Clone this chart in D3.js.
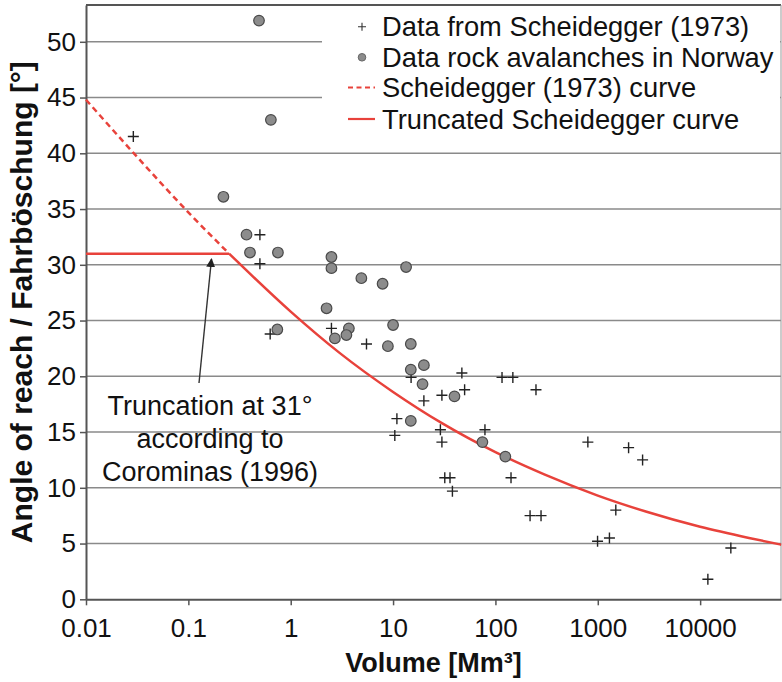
<!DOCTYPE html>
<html>
<head>
<meta charset="utf-8">
<script src="https://cdn.jsdelivr.net/npm/d3@7"></script>
<style>
  html, body { margin: 0; padding: 0; background: #fff; }
  svg { display: block; font-family: "Liberation Sans", Arial, sans-serif; }
</style>
</head>
<body>
<svg id="chart" width="782" height="682"></svg>
<script>
// ---- Data ----
// Data from Scheidegger (1973): volume [Mm³], angle [°]
const scheideggerVolume = [0.029, 0.50, 0.50, 0.63, 2.5, 5.5, 15, 20, 10.9, 10.4, 29, 30, 32, 36, 38, 47, 50, 30, 79, 142, 116, 148, 249, 218, 279, 800, 2000, 2740, 1500, 995, 1300, 19950, 11900];
const scheideggerAngle  = [41.5, 32.7, 30.1, 23.8, 24.3, 22.9, 19.9, 17.8, 16.2, 14.7, 15.2, 14.1, 10.9, 10.9, 9.7, 20.3, 18.8, 18.3, 15.2, 10.9, 19.9, 19.9, 18.8, 7.5, 7.5, 14.1, 13.6, 12.5, 8.0, 5.2, 5.5, 4.6, 1.8];

// Data rock avalanches in Norway
const norwayVolume = [0.49, 0.64, 0.22, 0.37, 0.40, 0.75, 2.5, 2.5, 4.9, 7.9, 13.4, 2.24, 0.74, 2.7, 3.7, 3.5, 8.9, 10.0, 14.9, 14.9, 20.0, 19.4, 39.8, 14.9, 74.6, 125];
const norwayAngle  = [51.9, 43.0, 36.1, 32.7, 31.1, 31.1, 30.7, 29.7, 28.8, 28.3, 29.8, 26.1, 24.2, 23.4, 24.3, 23.7, 22.7, 24.6, 22.9, 20.6, 21.0, 19.3, 18.2, 16.0, 14.1, 12.8];

// Scheidegger (1973) curve – dashed part (above the truncation)
const curveDashVolume = [0.01, 0.03, 0.1, 0.25];
const curveDashAngle  = [44.8, 39.9, 34.7, 31.0];

// Truncated Scheidegger curve
const truncFlatVolume = [0.01, 0.25];
const truncFlatAngle  = [31.0, 31.0];
const truncCurveVolume = [0.25, 0.3, 1, 3, 10, 30, 100, 300, 1000, 3000, 10000, 30000, 62000];
const truncCurveAngle  = [31.0, 30.3, 25.8, 22.1, 18.6, 15.8, 13.2, 11.2, 9.3, 7.85, 6.5, 5.5, 4.9];

// Axis ticks
const xTicks = [0.01, 0.1, 1, 10, 100, 1000, 10000];
const xTickLabels = ["0.01", "0.1", "1", "10", "100", "1000", "10000"];
const yTicks = [0, 5, 10, 15, 20, 25, 30, 35, 40, 45, 50];

// Legend entries
const legendLabels = ["Data from Scheidegger (1973)", "Data rock avalanches in Norway", "Scheidegger (1973) curve", "Truncated Scheidegger curve"];
const annotationLines = ["Truncation at 31°", "according to", "Corominas (1996)"];
const xTitle = "Volume [Mm³]";
const yTitle = "Angle of reach / Fahrböschung [°]";

// ---- Layout ----
const svg = d3.select("#chart");
const pL = 86, pR = 781, pT = 5, pB = 599.3;
const RED = "#e8423b";

const x = d3.scaleLog().domain([0.01, Math.pow(10, 4.79)]).range([pL, pR]);
const y = d3.scaleLinear().domain([0, 53.3]).range([pB, pT]);

const zip = (a, b) => a.map((v, i) => [v, b[i]]);

// Grid lines
svg.append("g").selectAll("line").data(yTicks.filter(d => d > 0)).join("line")
  .attr("x1", pL).attr("x2", pR)
  .attr("y1", d => y(d)).attr("y2", d => y(d))
  .attr("stroke", "#8a8a8a").attr("stroke-width", 1.5);

// Frame top and right
svg.append("line").attr("x1", pL).attr("x2", pR).attr("y1", pT).attr("y2", pT)
  .attr("stroke", "#555").attr("stroke-width", 2);
svg.append("line").attr("x1", pR).attr("x2", pR).attr("y1", pT).attr("y2", pB)
  .attr("stroke", "#999").attr("stroke-width", 1);

// Legend background (hides grid lines behind it)
svg.append("rect").attr("x", 322).attr("y", pT + 1.5).attr("width", pR - 322 - 1).attr("height", 134)
  .attr("fill", "#fff");

// Axes
const xAxis = d3.axisBottom(x).tickValues(xTicks).tickFormat((d, i) => xTickLabels[i]).tickSize(6).tickSizeOuter(0);
const gx = svg.append("g").attr("transform", `translate(0,${pB})`).call(xAxis);
gx.select(".domain").attr("stroke", "#555").attr("stroke-width", 2);
gx.selectAll(".tick line").attr("stroke", "#555").attr("stroke-width", 1.5);
gx.selectAll(".tick text").attr("font-size", 26).attr("fill", "#111").attr("font-family", "Liberation Sans, Arial, sans-serif")
  .attr("y", 13).attr("dy", "0.95em");

const yAxis = d3.axisLeft(y).tickValues(yTicks).tickSize(6).tickSizeOuter(0);
const gy = svg.append("g").attr("transform", `translate(${pL},0)`).call(yAxis);
gy.select(".domain").attr("stroke", "#555").attr("stroke-width", 2);
gy.selectAll(".tick line").attr("stroke", "#555").attr("stroke-width", 1.5);
gy.selectAll(".tick text").attr("font-size", 26).attr("fill", "#111").attr("font-family", "Liberation Sans, Arial, sans-serif").attr("x", -10);

// Curves
const line = d3.line().x(d => x(d[0])).y(d => y(d[1]));
const smooth = d3.line().x(d => x(d[0])).y(d => y(d[1])).curve(d3.curveMonotoneX);

svg.append("path").datum(zip(curveDashVolume, curveDashAngle)).attr("d", smooth)
  .attr("fill", "none").attr("stroke", RED).attr("stroke-width", 2.5).attr("stroke-dasharray", "6,4");
svg.append("path").datum(zip(truncFlatVolume, truncFlatAngle)).attr("d", line)
  .attr("fill", "none").attr("stroke", RED).attr("stroke-width", 2.5);
svg.append("path").datum(zip(truncCurveVolume, truncCurveAngle)).attr("d", smooth)
  .attr("fill", "none").attr("stroke", RED).attr("stroke-width", 2.5);

// Scheidegger plus markers
const plusSize = 5.5;
svg.append("g").selectAll("path").data(zip(scheideggerVolume, scheideggerAngle)).join("path")
  .attr("d", d => {
    const cx = x(d[0]), cy = y(d[1]);
    return `M${cx - plusSize},${cy}H${cx + plusSize}M${cx},${cy - plusSize}V${cy + plusSize}`;
  })
  .attr("stroke", "#222").attr("stroke-width", 1.4).attr("fill", "none");

// Norway circles
svg.append("g").selectAll("circle").data(zip(norwayVolume, norwayAngle)).join("circle")
  .attr("cx", d => x(d[0])).attr("cy", d => y(d[1])).attr("r", 5.3)
  .attr("fill", "#8c8c8c").attr("stroke", "#4a4a4a").attr("stroke-width", 1.2);

// Legend
const legY = [26.7, 57.3, 87.5, 119];
const legX = 362, legTextX = 382;
svg.append("path").attr("d", `M${legX - 4},${legY[0]}H${legX + 4}M${legX},${legY[0] - 4}V${legY[0] + 4}`)
  .attr("stroke", "#333").attr("stroke-width", 1.1);
svg.append("circle").attr("cx", legX).attr("cy", legY[1]).attr("r", 3.8)
  .attr("fill", "#8c8c8c").attr("stroke", "#666").attr("stroke-width", 1);
svg.append("line").attr("x1", 348).attr("x2", 375).attr("y1", legY[2]).attr("y2", legY[2])
  .attr("stroke", RED).attr("stroke-width", 2).attr("stroke-dasharray", "5,3.5");
svg.append("line").attr("x1", 348).attr("x2", 375).attr("y1", legY[3]).attr("y2", legY[3])
  .attr("stroke", RED).attr("stroke-width", 2.2);
svg.append("g").selectAll("text").data(legendLabels).join("text")
  .attr("x", legTextX).attr("y", (d, i) => legY[i] + 9.5)
  .attr("font-size", 27.3).attr("fill", "#111").text(d => d);

// Annotation
svg.append("defs").append("marker").attr("id", "arrow").attr("viewBox", "0 0 10 10")
  .attr("refX", 9).attr("refY", 5).attr("markerWidth", 9).attr("markerHeight", 9)
  .attr("markerUnits", "userSpaceOnUse").attr("orient", "auto")
  .append("path").attr("d", "M0,0L10,5L0,10Z").attr("fill", "#222");
svg.append("line").attr("x1", 199).attr("y1", 383).attr("x2", 211.5).attr("y2", 259)
  .attr("stroke", "#333").attr("stroke-width", 1.4).attr("marker-end", "url(#arrow)");
svg.append("g").selectAll("text").data(annotationLines).join("text")
  .attr("x", 210).attr("y", (d, i) => 415 + i * 33)
  .attr("text-anchor", "middle").attr("font-size", 27).attr("fill", "#111").text(d => d);

// Axis titles
svg.append("text").attr("x", (pL + pR) / 2).attr("y", 672)
  .attr("text-anchor", "middle").attr("font-size", 27).attr("font-weight", "bold").attr("fill", "#111")
  .text(xTitle);
svg.append("text").attr("transform", `translate(32,${(pT + pB) / 2}) rotate(-90)`)
  .attr("text-anchor", "middle").attr("font-size", 30).attr("font-weight", "bold").attr("fill", "#111")
  .text(yTitle);
</script>
</body>
</html>
